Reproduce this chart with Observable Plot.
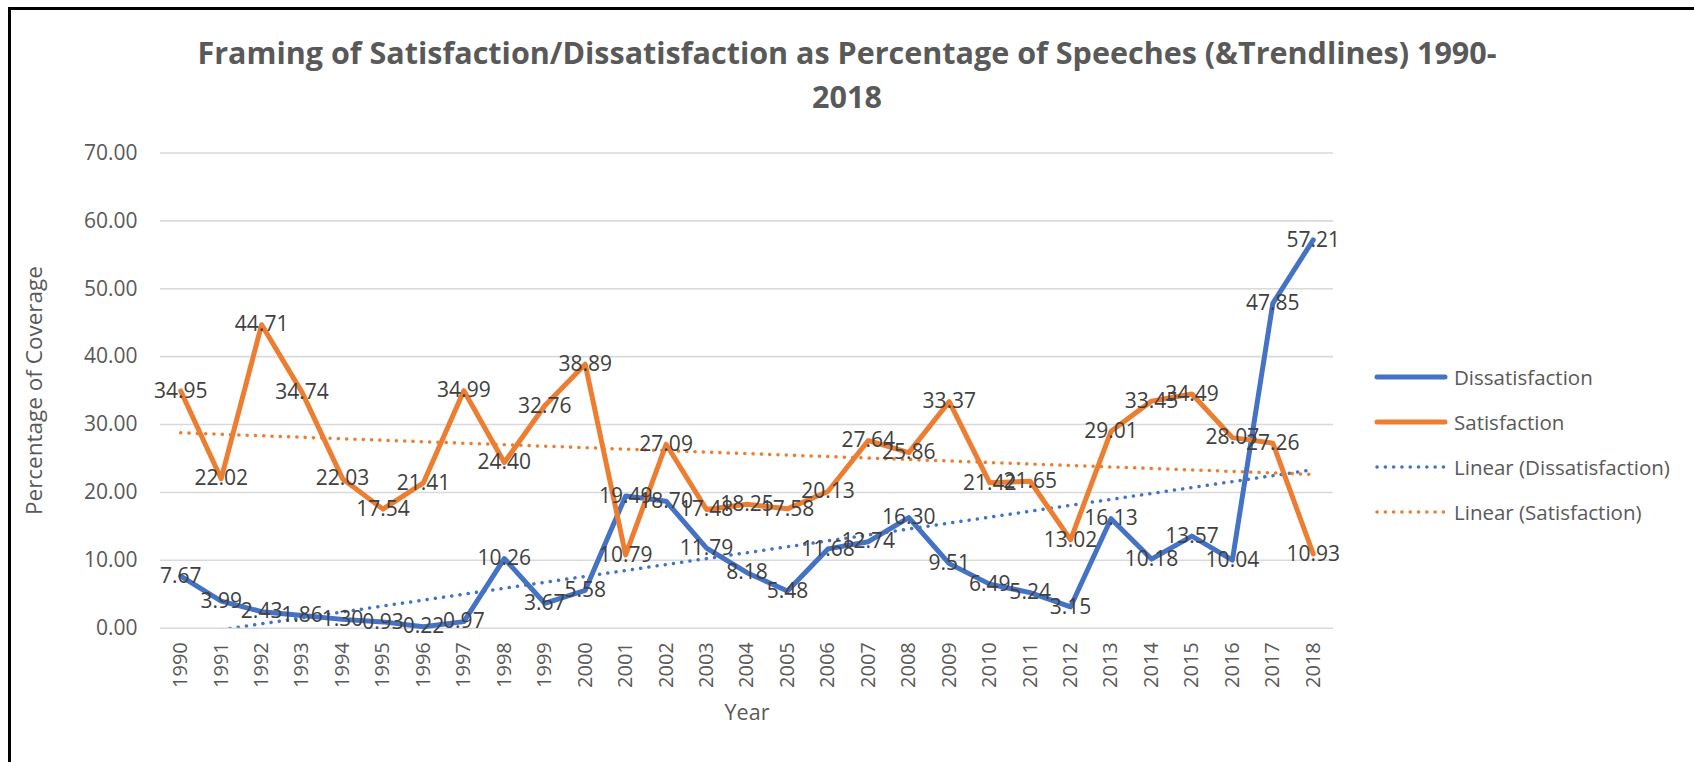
<!DOCTYPE html>
<html>
<head>
<meta charset="utf-8">
<script src="https://cdn.jsdelivr.net/npm/d3@7"></script>
<script src="https://cdn.jsdelivr.net/npm/@observablehq/plot@0.6"></script>
<style>
  body { margin: 0; background: #fff; font-family: "Open Sans", sans-serif; }
  #page { position: relative; width: 1694px; height: 762px; overflow: hidden; }
  #frame { position: absolute; left: 8px; top: 7px; width: 1720px; height: 800px; border-left: 3px solid #000; border-top: 3px solid #000; box-sizing: border-box; }
  #title { position: absolute; left: 0; top: 30px; width: 1694px; text-align: center; font-weight: bold; font-size: 30.5px; line-height: 44px; color: #595959; }
  #chart { position: absolute; left: 0; top: 125px; }
  #chart [aria-label="y-axis label"] text { font-size: 22.5px; }
  #chart [aria-label="x-axis label"] text { font-size: 21.5px; }
  #legend { position: absolute; left: 1374px; top: 354px; width: 320px; color: #595959; font-size: 20.5px; white-space: nowrap; }
  .item { display: flex; align-items: center; height: 45px; }
  .item svg { margin-right: 6px; flex-shrink: 0; }
</style>
</head>
<body>
<div id="page">
  <div id="frame"></div>
  <div id="title">Framing of Satisfaction/Dissatisfaction as Percentage of Speeches (&amp;Trendlines) 1990-<br>2018</div>
  <div id="chart"></div>
  <div id="legend"></div>
</div>
<script>
const years = [1990,1991,1992,1993,1994,1995,1996,1997,1998,1999,2000,2001,2002,2003,2004,2005,2006,2007,2008,2009,2010,2011,2012,2013,2014,2015,2016,2017,2018];
const dissatisfaction = [7.67,3.99,2.43,1.86,1.30,0.93,0.22,0.97,10.26,3.67,5.58,19.49,18.70,11.79,8.18,5.48,11.68,12.74,16.30,9.51,6.49,5.24,3.15,16.13,10.18,13.57,10.04,47.85,57.21];
const satisfaction = [34.95,22.02,44.71,34.74,22.03,17.54,21.41,34.99,24.40,32.76,38.89,10.79,27.09,17.48,18.25,17.58,20.13,27.64,25.86,33.37,21.42,21.65,13.02,29.01,33.45,34.49,28.07,27.26,10.93];
const yTicks = [0,10,20,30,40,50,60,70];
const seriesNames = ["Dissatisfaction","Satisfaction"];
const trendNames = ["Linear (Dissatisfaction)","Linear (Satisfaction)"];
const colors = ["#4472C4","#ED7D31"];

const rows = [];
years.forEach((yr,i) => {
  rows.push({year: yr, value: dissatisfaction[i], series: seriesNames[0]});
  rows.push({year: yr, value: satisfaction[i], series: seriesNames[1]});
});
const dRows = rows.filter(d => d.series === seriesNames[0]);
const sRows = rows.filter(d => d.series === seriesNames[1]);

const dotted = {strokeWidth: 3.5, strokeDasharray: "0.1 8.2", strokeLinecap: "round", ci: 0, clip: true};

const chart = Plot.plot({
  width: 1360,
  height: 637,
  marginLeft: 160,
  marginRight: 27,
  marginTop: 27.5,
  marginBottom: 134.3,
  style: {fontFamily: "Open Sans, sans-serif", fontSize: "20px", color: "#595959", background: "transparent"},
  x: {type: "linear", domain: [1989.5, 2018.5]},
  y: {domain: [0, 70]},
  marks: [
    Plot.gridY(yTicks, {stroke: "#D9D9D9", strokeOpacity: 1, strokeWidth: 1.6}),
    Plot.axisY(yTicks, {tickSize: 0, tickPadding: 23, tickFormat: d => d.toFixed(2), fontSize: 21,
      label: "Percentage of Coverage", labelAnchor: "center", labelOffset: 134, labelArrow: "none"}),
    Plot.axisX(years, {tickSize: 0, tickPadding: 14, tickRotate: -90, tickFormat: d => String(d), fontSize: 20,
      label: "Year", labelAnchor: "center", labelOffset: 92, labelArrow: "none"}),
    Plot.linearRegressionY(dRows, {x: "year", y: "value", stroke: colors[0], ...dotted}),
    Plot.linearRegressionY(sRows, {x: "year", y: "value", stroke: colors[1], ...dotted}),
    Plot.line(dRows, {x: "year", y: "value", stroke: colors[0], strokeWidth: 5, strokeLinejoin: "round", strokeLinecap: "round"}),
    Plot.line(sRows, {x: "year", y: "value", stroke: colors[1], strokeWidth: 5, strokeLinejoin: "round", strokeLinecap: "round"}),
    Plot.text(rows, {x: "year", y: "value", text: d => d.value.toFixed(2), fill: "#404040", fontSize: 21})
  ]
});
document.getElementById("chart").appendChild(chart);

const legend = document.getElementById("legend");
const legendItems = [
  {name: seriesNames[0], color: colors[0], dash: null},
  {name: seriesNames[1], color: colors[1], dash: null},
  {name: trendNames[0], color: colors[0], dash: "0.1 8.2"},
  {name: trendNames[1], color: colors[1], dash: "0.1 8.2"}
];
legendItems.forEach(it => {
  const div = document.createElement("div");
  div.className = "item";
  const w = it.dash ? 3.5 : 5;
  div.innerHTML = `<svg width="74" height="12"><line x1="3" x2="71" y1="6" y2="6" stroke="${it.color}" stroke-width="${w}" stroke-linecap="round" ${it.dash ? `stroke-dasharray="${it.dash}"` : ""}/></svg><span>${it.name}</span>`;
  legend.appendChild(div);
});
</script>
</body>
</html>
